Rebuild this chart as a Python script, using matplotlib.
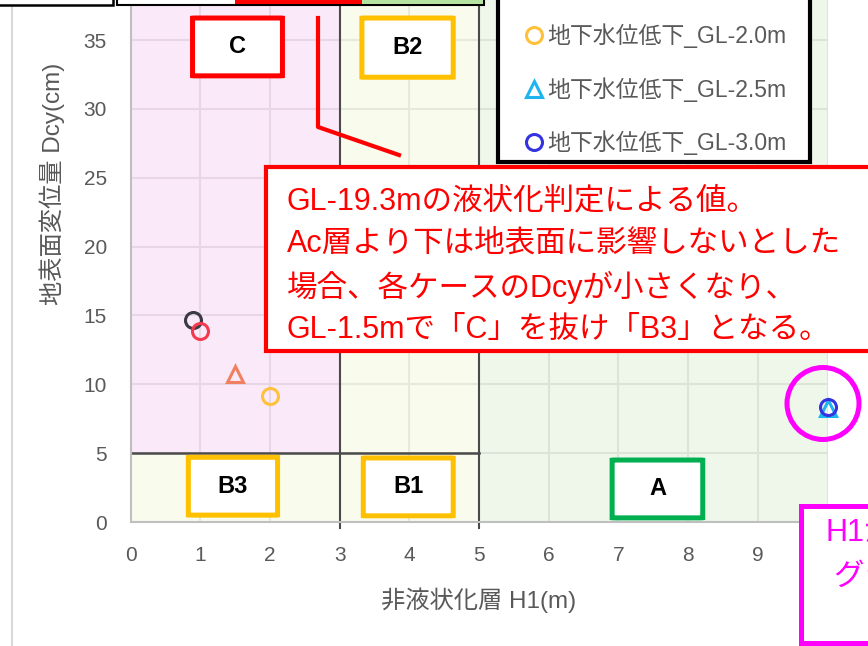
import matplotlib
matplotlib.use('Agg')
import matplotlib.pyplot as plt
from matplotlib.patches import Rectangle, FancyBboxPatch, Ellipse
from matplotlib.lines import Line2D

FAM = ['Liberation Sans', 'Noto Sans CJK JP']
plt.rcParams['font.family'] = FAM

# ---------------- data ----------------
series_labels = ['現状_GL-0.9m', '地下水位低下_GL-1.0m', '地下水位低下_GL-1.5m',
                 '地下水位低下_GL-2.0m', '地下水位低下_GL-2.5m', '地下水位低下_GL-3.0m']
h1_values = [0.9, 1.0, 1.5, 2.0, 10.0, 10.0]
dcy_values = [14.7, 13.85, 10.75, 9.15, 8.3, 8.35]
legend_visible = [3, 4, 5]   # series whose legend entries are inside the picture

x_ticks = [0, 1, 2, 3, 4, 5, 6, 7, 8, 9, 10]
y_ticks = [0, 5, 10, 15, 20, 25, 30, 35]

zone_labels = ['C', 'B2', 'B3', 'B1', 'A']
h1_limits = [3, 5]
dcy_limit = 5

x_label = '非液状化層 H1(m)'
y_label = '地表面変位量 Dcy(cm)'
note_lines = ['GL-19.3mの液状化判定による値。',
              'Ac層より下は地表面に影響しないとした',
              '場合、各ケースのDcyが小さくなり、',
              'GL-1.5mで「C」を抜け「B3」となる。']
side_note = ['H1が10m以上の場合', 'グラフ上は10mとした']

# ---------------- styles ----------------
markers = ['o', 'o', '^', 'o', '^', 'o']
colors = ['#3A3A44', '#F33A4E', '#F08060', '#FFC13B', '#1EB4F0', '#3333E0']
zone_edge = ['#FF0000', '#FFC000', '#FFC000', '#FFC000', '#00B050']
# zone label boxes (x0, x1, y0, y1) in data units
zone_boxes = [(0.89, 2.18, 32.4, 36.6), (3.32, 4.63, 32.3, 36.6),
              (0.83, 2.11, 0.5, 4.7), (3.34, 4.63, 0.45, 4.65),
              (6.91, 8.21, 0.3, 4.5)]

W, H = 868, 646
fig = plt.figure(figsize=(W / 100, H / 100), dpi=100)
fig.patch.set_facecolor('white')

def fx(px):
    return px / W

def fy(py):
    return 1 - py / H

x0px, x10px = 130.5, 827.5
y0px, ppu = 522.0, 13.77
ax = fig.add_axes([fx(x0px), fy(y0px), (x10px - x0px) / W, 40 * ppu / H])
ax.set_xlim(0, 10)
ax.set_ylim(0, 40)
ax.set_xticks(x_ticks)
ax.set_yticks(y_ticks)
ax.set_axisbelow(True)
ax.grid(True, color='#D9D9D9', lw=1.5)
ax.set_facecolor('white')

# zone fills
pink = (247/255, 213/255, 245/255)
yellow = (245/255, 249/255, 219/255)
green = (225/255, 239/255, 215/255)
ax.fill_between([0, h1_limits[0]], dcy_limit, 40, color=pink, alpha=0.5, lw=0, zorder=1)
ax.fill_between([0, h1_limits[0]], 0, dcy_limit, color=yellow, alpha=0.5, lw=0, zorder=1)
ax.fill_between(h1_limits, 0, 40, color=yellow, alpha=0.5, lw=0, zorder=1)
ax.fill_between([h1_limits[1], 10], 0, 40, color=green, alpha=0.5, lw=0, zorder=1)

# zone boundary lines
ax.plot([h1_limits[0]] * 2, [-0.4, 40], color='#4A4A4A', lw=1.5, zorder=2, clip_on=False)
ax.plot([h1_limits[1]] * 2, [-0.4, 40], color='#4A4A4A', lw=1.5, zorder=2, clip_on=False)
ax.plot([0, h1_limits[1]], [dcy_limit] * 2, color='#4A4A4A', lw=1.8, zorder=2)

for sp in ['top', 'right']:
    ax.spines[sp].set_visible(False)
for sp in ['left', 'bottom']:
    ax.spines[sp].set_color('#BFBFBF')
    ax.spines[sp].set_linewidth(1.5)
    ax.spines[sp].set_zorder(2.5)

ax.tick_params(length=0, labelsize=15, labelcolor='#595959', labelfontfamily='Liberation Sans')
ax.tick_params(axis='y', pad=17)
ax.tick_params(axis='x', pad=17.5)

ax.set_xlabel(x_label, fontsize=17.5, color='#595959', va='center')
ax.xaxis.set_label_coords((479 - x0px) / (x10px - x0px), (y0px - 600) / (40 * ppu))
ax.set_ylabel(y_label, fontsize=17.5, color='#595959', va='center')
ax.yaxis.set_label_coords((52 - x0px) / (x10px - x0px), (y0px - 184) / (40 * ppu))

# zone label boxes
for lab, ec, (bx0, bx1, by0, by1) in zip(zone_labels, zone_edge, zone_boxes):
    p = FancyBboxPatch((bx0, by0), bx1 - bx0, by1 - by0,
                       boxstyle='round,pad=0,rounding_size=0.05',
                       fc='white', ec=ec, lw=3.6, zorder=2.6,
                       mutation_aspect=ppu / 69.7)
    ax.add_patch(p)
    ax.text((bx0 + bx1) / 2, (by0 + by1) / 2, lab, ha='center', va='center',
            fontsize=17, fontweight='bold', color='black', zorder=2.7)

# data series
handles = []
for lab, x, y, m, c in zip(series_labels, h1_values, dcy_values, markers, colors):
    h, = ax.plot([x], [y], linestyle='none', marker=m, ms=11.5, mew=2.2,
                 mfc='none', mec=c, label=lab, zorder=3, clip_on=False)
    handles.append(h)

# legend frame (its top is cut off by the picture edge)
ax.add_patch(Rectangle((fx(498), fy(162)), fx(810) - fx(498), fy(-80) - fy(162),
                       transform=fig.transFigure, fc='white', ec='black', lw=3,
                       clip_on=False, zorder=4.5))
leg = ax.legend(handles=[handles[i] for i in legend_visible],
                labels=[series_labels[i] for i in legend_visible], loc='lower left',
                bbox_to_anchor=(fx(498), fy(163), (810 - 498) / W, 0.05),
                bbox_transform=fig.transFigure, mode='expand', borderaxespad=0,
                prop={'family': FAM, 'size': 16.5},
                labelcolor='#595959', frameon=False, handlelength=2.4,
                handletextpad=-0.62, labelspacing=1.25, borderpad=0.35, numpoints=1)
leg.set_zorder(5)

# ---------------- figure-level annotations ----------------
# chart area left border
fig.add_artist(Line2D([fx(12), fx(12)], [0, 1], color='#D9D9D9', lw=1.5,
                      transform=fig.transFigure))

# cropped shapes at top
fig.add_artist(Rectangle((fx(-10), fy(5)), fx(123), fy(-40) - fy(5), fc='white',
                         ec='black', lw=1.8, transform=fig.transFigure, zorder=4))
fig.add_artist(Rectangle((fx(117), fy(5)), fx(484) - fx(117), fy(-40) - fy(5), fc='white',
                         ec='black', lw=1.5, transform=fig.transFigure, zorder=4))
fig.add_artist(Rectangle((fx(235), fy(4)), fx(362) - fx(235), fy(-40) - fy(4), fc='#FF0000',
                         ec='none', transform=fig.transFigure, zorder=4.1))
fig.add_artist(Rectangle((fx(362), fy(4)), fx(483) - fx(362), fy(-40) - fy(4), fc='#B4E4A0',
                         ec='none', transform=fig.transFigure, zorder=4.1))

# callout pointer
fig.add_artist(Line2D([fx(318), fx(318), fx(399)], [fy(18), fy(127), fy(155)],
                      color='#FF0000', lw=3, transform=fig.transFigure, zorder=4))
# callout box
fig.add_artist(Rectangle((fx(266), fy(351)), fx(920) - fx(266), fy(167) - fy(351),
                         fc='white', ec='#FF0000', lw=3, transform=fig.transFigure, zorder=4))
for i, line in enumerate(note_lines):
    fig.text(fx(287), fy(201 + 43 * i), line, ha='left', va='center', fontsize=22,
             color='#FF0000', zorder=5)

# magenta circle around capped points
fig.add_artist(Ellipse((fx(823), fy(403.5)), 72 / W, 72 / H, fc='none', ec='#FF00FF',
                       lw=3.6, transform=fig.transFigure, zorder=4))
# magenta side note box (cropped)
fig.add_artist(Rectangle((fx(801), fy(643)), fx(940) - fx(801), fy(506) - fy(643),
                         fc='white', ec='#FF00FF', lw=3.6, transform=fig.transFigure, zorder=4))
fig.text(fx(825), fy(532), side_note[0], ha='left', va='center', fontsize=22,
         color='#FF00FF', zorder=5)
fig.text(fx(833), fy(577), side_note[1], ha='left', va='center', fontsize=22,
         color='#FF00FF', zorder=5)

fig.savefig('out.png', dpi=100)
